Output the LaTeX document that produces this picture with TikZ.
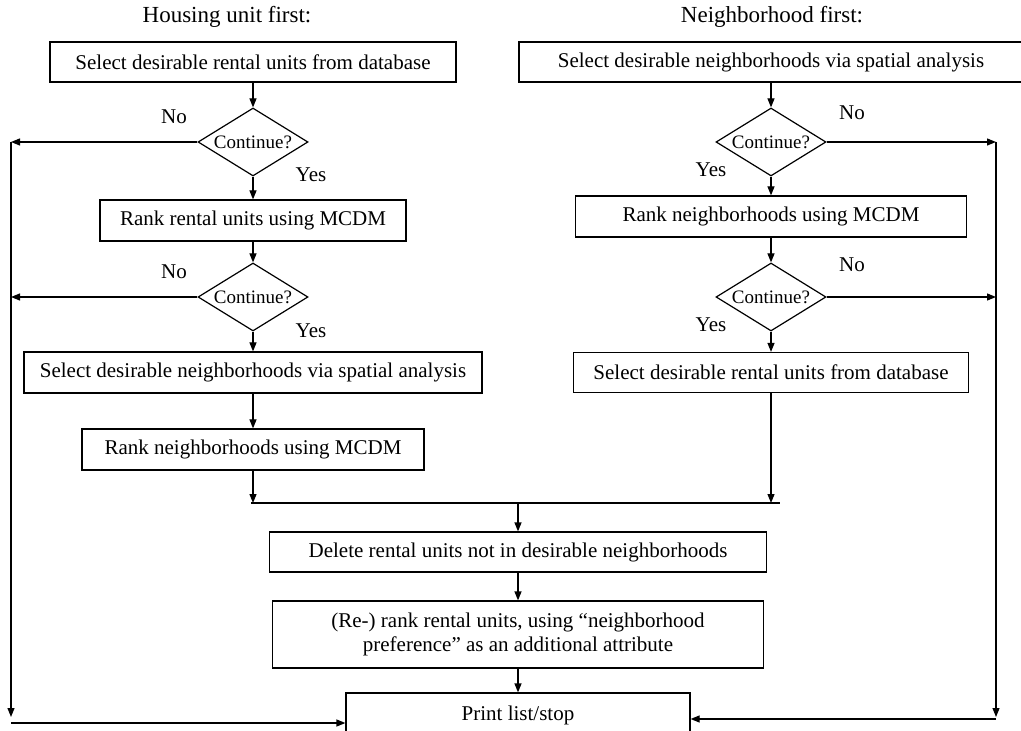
\documentclass[tikz,border=0pt]{standalone}
\usepackage{fontspec}
\setmainfont{Liberation Serif}
\usetikzlibrary{arrows.meta,shapes.geometric}

\begin{document}
\begin{tikzpicture}[x=0.5pt,y=-0.5pt,
    every node/.style={font=\fontsize{10.5}{12}\selectfont},
    box/.style={draw,line width=0.6pt,inner sep=0pt,minimum height=20pt},
    decide/.style={draw,line width=0.6pt,diamond,aspect=1.6,inner sep=0pt,
      minimum width=55pt,minimum height=34pt,font=\fontsize{9.5}{11}\selectfont},
    flow/.style={line width=0.6pt,-{Triangle[length=4.5pt,width=3.5pt]}},
    plain/.style={line width=0.6pt},
    title/.style={font=\fontsize{11.5}{13}\selectfont}]
        \useasboundingbox (0,0) rectangle (1021,731);
        \def\lx{253} \def\rx{771} \def\mx{518}
        \def\lside{11} \def\rside{996}

        \node[title] (htitle) at (227,17) {Housing unit first:};
        \node[title] (ntitle) at (772,17) {Neighborhood first:};

        % housing unit first
        \node[box,minimum width=203pt] (l1) at (\lx,62) {Select desirable rental units from database};
        \node[decide] (ld1) at (\lx,142) {Continue?};
        \node[box,minimum width=153pt,minimum height=20.5pt] (l2) at (\lx,220.5) {Rank rental units using MCDM};
        \node[decide] (ld2) at (\lx,297) {Continue?};
        \node[box,minimum width=229pt,minimum height=20.5pt] (l3) at (\lx,372.5) {Select desirable neighborhoods via spatial analysis};
        \node[box,minimum width=171pt,minimum height=20.5pt] (l4) at (\lx,449.5) {Rank neighborhoods using MCDM};

        \node (lno1) at (174,117) {No};
        \node (lyes1) at (311,175) {Yes};
        \node (lno2) at (174,272) {No};
        \node (lyes2) at (311,331) {Yes};

        % neighborhood first
        \node[box,minimum width=252pt] (r1) at (\rx,62) {Select desirable neighborhoods via spatial analysis};
        \node[decide] (rd1) at (\rx,142) {Continue?};
        \node[box,minimum width=195.5pt,minimum height=20.5pt] (r2) at (\rx,216.5) {Rank neighborhoods using MCDM};
        \node[decide] (rd2) at (\rx,297) {Continue?};
        \node[box,minimum width=197.5pt] (r3) at (\rx,372.5) {Select desirable rental units from database};

        \node (rno1) at (852,113) {No};
        \node (ryes1) at (711,170) {Yes};
        \node (rno2) at (852,265) {No};
        \node (ryes2) at (711,325) {Yes};

        % common part
        \node[box,minimum width=248.5pt] (del) at (\mx,552) {Delete rental units not in desirable neighborhoods};
        \node[box,minimum width=245.5pt,minimum height=33.5pt,align=center] (rerank) at (\mx,634.5)
          {(Re-) rank rental units, using ``neighborhood\\preference'' as an additional attribute};
        \node[box,minimum width=172pt,minimum height=22pt] (print) at (\mx,715) {Print list/stop};

        \coordinate (ltop1) at (\lside,142);
        \coordinate (ltop2) at (\lside,297);
        \coordinate (lbot) at (\lside,717);
        \coordinate (lfoot) at (\lside,723);
        \coordinate (rtop1) at (\rside,142);
        \coordinate (rtop2) at (\rside,297);
        \coordinate (rbot) at (\rside,717);
        \coordinate (rfoot) at (\rside,719);
        \coordinate (ml) at (251,503);
        \coordinate (mr) at (780,503);
        \coordinate (mc) at (\mx,503);

        \draw[flow] (l1) -- (ld1);
        \draw[flow] (ld1) -- (l2);
        \draw[flow] (l2) -- (ld2);
        \draw[flow] (ld2) -- (l3);
        \draw[flow] (l3) -- (l4);
        \draw[flow] (ld1.west) -- (ltop1);
        \draw[flow] (ld2.west) -- (ltop2);
        \draw[flow] (ltop1) -- (lbot);
        \draw[flow] (lfoot) -- (print.west |- lfoot);

        \draw[flow] (r1) -- (rd1);
        \draw[flow] (rd1) -- (r2);
        \draw[flow] (r2) -- (rd2);
        \draw[flow] (rd2) -- (r3);
        \draw[flow] (rd1.east) -- (rtop1);
        \draw[flow] (rd2.east) -- (rtop2);
        \draw[flow] (rtop1) -- (rbot);
        \draw[flow] (rfoot) -- (print.east |- rfoot);

        \draw[flow] (l4) -- (l4 |- ml);
        \draw[flow] (r3) -- (r3 |- mr);
        \draw[plain] (ml) -- (mr);
        \draw[flow] (mc) -- (del);
        \draw[flow] (del) -- (rerank);
        \draw[flow] (rerank) -- (print);
\end{tikzpicture}
\end{document}
